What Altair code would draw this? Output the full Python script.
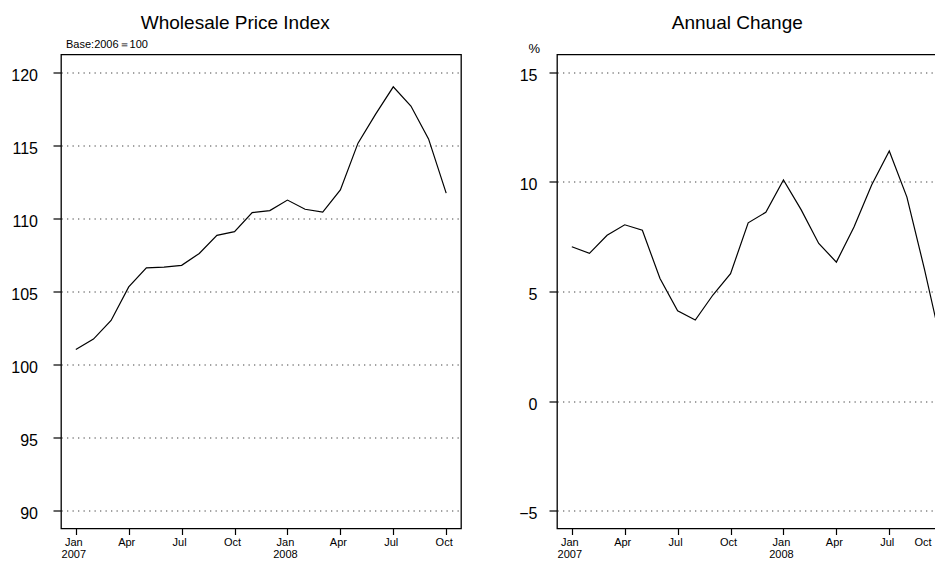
import json
import altair as alt
import pandas as pd

# ---- data ----
months = ["2007-01", "2007-02", "2007-03", "2007-04", "2007-05", "2007-06",
          "2007-07", "2007-08", "2007-09", "2007-10", "2007-11", "2007-12",
          "2008-01", "2008-02", "2008-03", "2008-04", "2008-05", "2008-06",
          "2008-07", "2008-08", "2008-09", "2008-10"]
wpi = [101.04, 101.75, 103.02, 105.31, 106.61, 106.66, 106.79, 107.60,
       108.84, 109.09, 110.39, 110.53, 111.25, 110.62, 110.42, 111.94,
       115.14, 117.12, 118.99, 117.68, 115.43, 111.72]
annual_change = [7.04, 6.74, 7.56, 8.04, 7.79, 5.59, 4.12, 3.70, 4.84, 5.81,
                 8.13, 8.61, 10.08, 8.73, 7.19, 6.34, 7.94, 9.85, 11.40,
                 9.30, 6.00, 2.44]
tick_positions = [0, 3, 6, 9, 12, 15, 18, 21]
tick_labels = ["Jan\n2007", "Apr", "Jul", "Oct", "Jan\n2008", "Apr", "Jul", "Oct"]
wpi_ticks = [90, 95, 100, 105, 110, 115, 120]
chg_ticks = [-5, 0, 5, 10, 15]
wpi_title = "Wholesale Price Index"
chg_title = "Annual Change"
wpi_unit = "Base:2006＝100"
chg_unit = "%"

df = pd.DataFrame({"idx": list(range(len(months))), "month": months,
                   "wpi": wpi, "chg": annual_change})

FONT = "Liberation Sans"
label_map = {str(p): lab.split("\n") for p, lab in zip(tick_positions, tick_labels)}
label_expr = f"{json.dumps(label_map)}['' + datum.value]"

n = len(months) - 1
x_dom = [-0.04 * n, n + 0.04 * n]
last_tick = tick_positions[-1]


def x_enc(keep_last_visible):
    if keep_last_visible:
        # the right panel is cut by the page edge: keep its last label readable
        align = {"condition": {"test": f"datum.value == {last_tick}", "value": "right"},
                 "value": "center"}
        offset = {"condition": {"test": f"datum.value == {last_tick}", "value": -11},
                  "value": -2.5}
    else:
        align = "center"
        offset = -2.5
    return alt.X(
        "idx:Q",
        scale=alt.Scale(domain=x_dom, nice=False, zero=False),
        axis=alt.Axis(values=tick_positions, labelExpr=label_expr, title=None,
                      grid=False, domain=False, tickSize=6, tickColor="black",
                      tickWidth=1.2, labelFontSize=11, labelFont=FONT,
                      labelColor="black", labelPadding=2, labelLineHeight=11.5,
                      labelOffset=offset, labelAlign=align, labelBaseline="top",
                      labelFlush=False, labelOverlap=False),
    )


def y_axis(vals, pad):
    return alt.Axis(values=vals, title=None, grid=True, gridDash=[1.3, 4.2],
                    gridColor="#444444", gridWidth=1.1, domain=False,
                    tickSize=8, tickColor="black", tickWidth=1.2,
                    labelFontSize=16, labelFont=FONT, labelColor="black",
                    labelPadding=pad, labelOffset=3, labelFlush=False,
                    labelOverlap=False)


def panel(field, ticks, title, dx, offset, unit, ux, uy, usize, pad, keep_last):
    lo, hi = min(ticks), max(ticks)
    ext = 0.04 * (hi - lo)
    base = alt.Chart(df)
    line = base.mark_line(color="black", strokeWidth=1.2).encode(
        x=x_enc(keep_last),
        y=alt.Y(f"{field}:Q",
                scale=alt.Scale(domain=[lo - ext, hi + ext], nice=False, zero=False),
                axis=y_axis(ticks, pad)),
    )
    unit_df = pd.DataFrame({"t": [unit]})
    unit_txt = alt.Chart(unit_df).mark_text(
        align="left", baseline="alphabetic", fontSize=usize, font=FONT, color="black"
    ).encode(text="t:N", x=alt.value(ux), y=alt.value(uy))
    return alt.layer(line, unit_txt).properties(
        width=400, height=474,
        title=alt.Title(title, fontSize=19, font=FONT, fontWeight="normal",
                        color="black", anchor="middle", frame="group",
                        dx=dx, offset=offset),
    )


left = panel("wpi", wpi_ticks, wpi_title, -25.7, 6.5, wpi_unit, 5, -6.5, 11, 15.5, False)
right = panel("chg", chg_ticks, chg_title, -19.7, 9.4, chg_unit, -28.4, -2, 13, 12, True)

chart = alt.hconcat(left, right, spacing=96, bounds="flush").properties(
    padding={"left": 2, "top": 4.5, "right": -23, "bottom": -1},
    background="white",
).configure_view(stroke="black", strokeWidth=1.3)

chart.save("out.html", embed_options={"renderer": "svg", "actions": False})
